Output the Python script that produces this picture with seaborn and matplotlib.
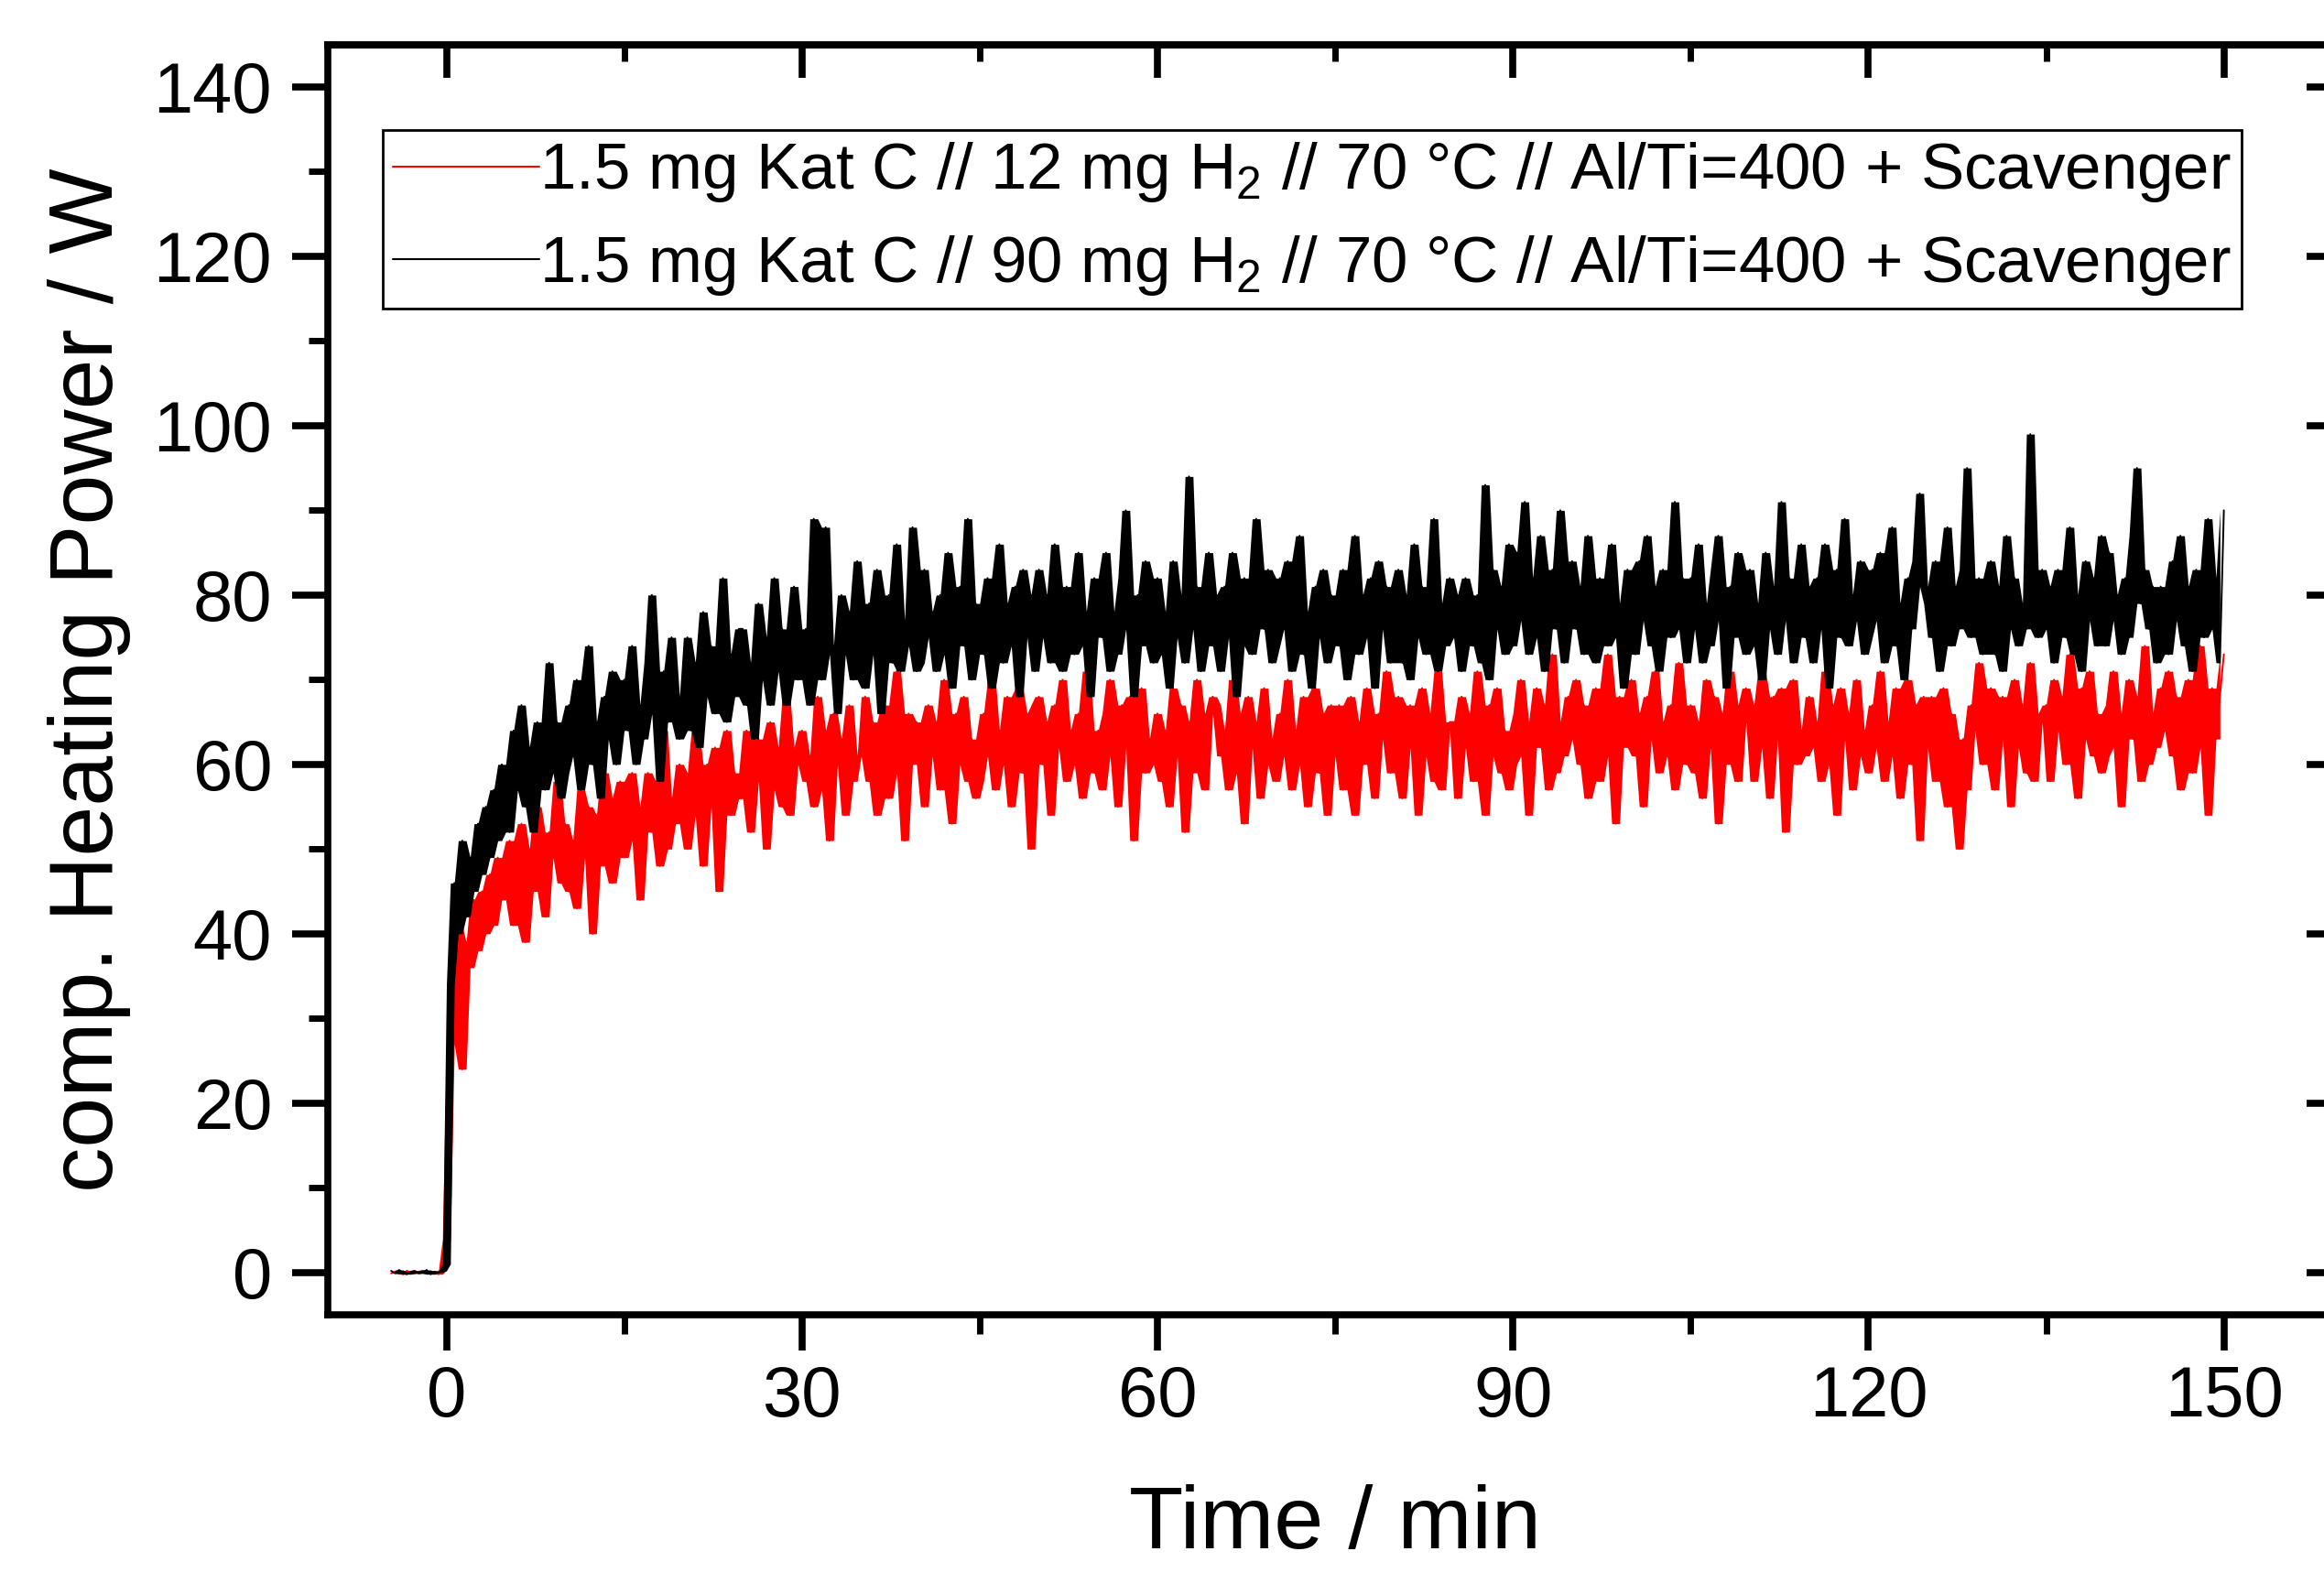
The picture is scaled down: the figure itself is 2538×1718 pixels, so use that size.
import numpy as np
import pandas as pd
import seaborn as sns
import matplotlib.pyplot as plt
from matplotlib.ticker import MultipleLocator

# Sampling of the logged curves: 3 points per minute, first point at -14/3 min
first_sample = -14
samples_per_min = 3

label_12mg = "1.5 mg Kat C // 12 mg H$_2$ // 70 °C // Al/Ti=400 + Scavenger"
label_90mg = "1.5 mg Kat C // 90 mg H$_2$ // 70 °C // Al/Ti=400 + Scavenger"

# comp. heating power in W (one row = 5 min)
power_12mg = [
    -0.1, 0.1, 0.0, -0.2, 0.2, 0.0, -0.1, 0.1, 0.2, -0.1, 0.0, 0.1, -0.2, 0.3,
    4, 27, 35, 41, 24, 39, 36, 44, 38, 45, 40, 47, 41, 49, 44,
    45, 51, 41, 49, 53, 39, 50, 45, 55, 48, 42, 52, 49, 58, 46,
    53, 45, 51, 43, 57, 49, 55, 40, 54, 48, 59, 51, 46, 56, 58,
    49, 55, 59, 51, 44, 55, 59, 52, 58, 48, 64, 50, 56, 53, 60,
    57, 50, 59, 64, 54, 48, 60, 55, 62, 45, 58, 64, 54, 59, 56,
    56, 64, 52, 61, 63, 58, 50, 65, 57, 62, 55, 68, 54, 60, 62,
    64, 58, 61, 55, 68, 57, 64, 51, 66, 60, 63, 54, 67, 58, 61,
    61, 68, 58, 65, 54, 64, 67, 56, 63, 71, 59, 51, 66, 60, 65,
    64, 55, 67, 61, 65, 57, 70, 59, 53, 66, 60, 68, 58, 63, 56,
    58, 66, 61, 70, 57, 64, 60, 68, 55, 65, 69, 59, 66, 50, 67,
    68, 60, 65, 54, 67, 62, 70, 58, 64, 60, 66, 56, 71, 61, 59,
    64, 57, 66, 70, 61, 55, 67, 62, 68, 51, 65, 69, 59, 63, 60,
    66, 58, 64, 55, 69, 61, 67, 52, 65, 59, 70, 62, 57, 66, 68,
    67, 61, 64, 57, 70, 59, 66, 53, 68, 62, 65, 56, 69, 60, 63,
    58, 66, 61, 70, 57, 64, 60, 68, 55, 65, 69, 59, 66, 54, 67,
    61, 67, 57, 64, 68, 54, 65, 60, 69, 62, 56, 66, 63, 71, 59,
    60, 68, 56, 65, 67, 62, 54, 69, 61, 66, 58, 71, 57, 64, 65,
    65, 56, 68, 62, 66, 58, 71, 60, 54, 67, 61, 69, 59, 64, 57,
    60, 66, 70, 61, 54, 65, 69, 62, 67, 57, 73, 59, 65, 61, 68,
    63, 70, 60, 67, 56, 66, 69, 58, 65, 73, 61, 53, 68, 62, 67,
    70, 61, 66, 55, 68, 63, 71, 59, 65, 61, 67, 57, 72, 62, 60,
    67, 59, 65, 56, 70, 62, 68, 53, 66, 60, 71, 63, 58, 67, 69,
    65, 58, 67, 71, 62, 56, 68, 63, 69, 52, 66, 70, 60, 64, 61,
    68, 62, 65, 58, 71, 60, 67, 54, 69, 63, 66, 57, 70, 61, 64,
    59, 67, 62, 71, 58, 65, 61, 69, 56, 66, 70, 60, 67, 51, 68,
    62, 68, 58, 65, 69, 55, 66, 61, 50, 63, 57, 67, 64, 72, 60,
    61, 69, 57, 66, 68, 63, 55, 70, 62, 67, 59, 72, 58, 65, 66,
    67, 58, 70, 64, 68, 60, 73, 62, 56, 69, 63, 71, 61, 66, 59,
    61, 67, 71, 62, 55, 66, 70, 63, 68, 58, 74, 60, 66, 62, 69,
    64, 71, 61, 68, 57, 67, 70, 59, 66, 74, 62, 54, 69, 63, 68,
    73,
]

power_90mg = [
    0.2, -0.1, 0.3, 0.0, -0.2, 0.1, 0.2, -0.1, 0.0, 0.3, -0.2, 0.1, 0.0, 0.2,
    1, 34, 46, 40, 51, 42, 49, 45, 53, 47, 55, 49, 57, 51, 60,
    59, 52, 64, 57, 67, 55, 62, 52, 65, 60, 57, 72, 59, 65, 56,
    59, 67, 61, 70, 57, 65, 74, 60, 65, 56, 68, 63, 71, 60, 68,
    70, 64, 74, 60, 67, 63, 72, 80, 66, 58, 71, 65, 75, 68, 63,
    68, 75, 64, 72, 62, 78, 68, 74, 66, 71, 82, 65, 73, 68, 76,
    76, 67, 72, 63, 79, 70, 75, 67, 82, 71, 76, 67, 73, 81, 70,
    71, 76, 67, 89, 74, 70, 88, 73, 74, 66, 80, 73, 78, 70, 84,
    78, 69, 79, 73, 83, 66, 76, 80, 72, 86, 71, 77, 74, 88, 71,
    72, 83, 75, 78, 71, 80, 73, 85, 69, 77, 81, 74, 89, 70, 79,
    77, 73, 82, 69, 78, 86, 72, 79, 74, 81, 68, 83, 75, 80, 71,
    83, 75, 80, 72, 86, 76, 71, 81, 79, 73, 85, 74, 78, 68, 82,
    81, 75, 85, 71, 78, 73, 82, 90, 76, 68, 80, 74, 84, 77, 72,
    82, 73, 78, 69, 84, 75, 80, 72, 94, 76, 81, 71, 77, 85, 74,
    80, 71, 81, 75, 85, 68, 78, 82, 74, 73, 89, 79, 76, 83, 72,
    74, 82, 76, 84, 71, 79, 87, 73, 78, 69, 81, 75, 83, 72, 80,
    78, 74, 83, 70, 79, 87, 73, 80, 75, 82, 69, 84, 76, 81, 72,
    76, 83, 72, 80, 70, 86, 75, 81, 73, 78, 89, 71, 79, 74, 82,
    75, 80, 71, 82, 78, 74, 80, 72, 93, 70, 83, 76, 81, 73, 86,
    74, 85, 77, 91, 73, 82, 75, 87, 71, 79, 83, 76, 90, 72, 81,
    84, 76, 81, 73, 87, 77, 72, 82, 80, 74, 86, 75, 79, 69, 83,
    80, 73, 84, 77, 87, 74, 81, 71, 83, 78, 75, 91, 76, 82, 72,
    82, 76, 86, 72, 79, 74, 83, 87, 77, 69, 81, 75, 85, 78, 73,
    83, 74, 79, 70, 85, 76, 81, 73, 91, 77, 82, 72, 78, 86, 75,
    81, 72, 82, 76, 86, 69, 79, 83, 75, 89, 74, 80, 77, 84, 73,
    75, 83, 77, 85, 72, 80, 88, 74, 79, 70, 82, 76, 84, 92, 81,
    79, 75, 84, 71, 80, 88, 74, 81, 76, 83, 95, 75, 77, 82, 73,
    77, 84, 73, 81, 71, 87, 76, 82, 74, 79, 76, 99, 80, 75, 83,
    76, 81, 72, 83, 79, 75, 88, 73, 80, 71, 84, 77, 82, 74, 87,
    74, 85, 77, 80, 73, 82, 75, 87, 95, 79, 83, 76, 81, 72, 81,
    80, 73, 84, 77, 87, 74, 81, 71, 83, 78, 75, 89, 76, 82, 72,
    90,
]

time_min = np.arange(first_sample, first_sample + len(power_90mg)) / samples_per_min

df = pd.DataFrame({
    "time": np.concatenate([time_min, time_min]),
    "power": power_12mg + power_90mg,
    "sample": [label_12mg] * len(power_12mg) + [label_90mg] * len(power_90mg),
})

sns.set_theme(style="ticks")
plt.rcParams["font.family"] = ["Liberation Sans", "DejaVu Sans"]
plt.rcParams["mathtext.fontset"] = "custom"
plt.rcParams["mathtext.rm"] = "Liberation Sans"
plt.rcParams["mathtext.default"] = "regular"
plt.rcParams["text.color"] = "black"
plt.rcParams["axes.labelcolor"] = "black"
plt.rcParams["xtick.color"] = "black"
plt.rcParams["ytick.color"] = "black"
plt.rcParams["xtick.labelcolor"] = "black"
plt.rcParams["ytick.labelcolor"] = "black"

fig = plt.figure(figsize=(25.38, 17.18), dpi=100)
ax = fig.add_axes([0.1411, 0.1641, 0.8668, 0.8076])

sns.lineplot(data=df, x="time", y="power", hue="sample", palette=["#ff0000", "#000000"],
             estimator=None, sort=False, linewidth=1.4, ax=ax)
ax.lines[0].set_zorder(2.0)
ax.lines[1].set_zorder(2.3)

# the logger samples far faster than shown: shade the range covered by three
# neighbouring points so the noisy trace reads as the dense band of the original
for power, colour, z in [(power_12mg, "#ff0000", 1.9), (power_90mg, "#000000", 2.2)]:
    p = np.asarray(power, dtype=float)
    lo = np.minimum.reduce([p[:-2], p[1:-1], p[2:]])
    hi = np.maximum.reduce([p[:-2], p[1:-1], p[2:]])
    ax.fill_between(time_min[1:-1], lo, hi, color=colour, lw=0, zorder=z)

ax.set_xlim(-10, 160)
ax.set_ylim(-5, 145)
ax.xaxis.set_major_locator(MultipleLocator(30))
ax.xaxis.set_minor_locator(MultipleLocator(15))
ax.yaxis.set_major_locator(MultipleLocator(20))
ax.yaxis.set_minor_locator(MultipleLocator(10))

spine_w = 5.5
for s in ax.spines.values():
    s.set_visible(True)
    s.set_linewidth(spine_w)
    s.set_color("black")

ax.tick_params(which="both", direction="out", top=False, right=False,
               color="black", labelcolor="black")
ax.tick_params(which="major", length=28, width=spine_w, labelsize=56)
ax.tick_params(which="minor", length=15, width=5)
ax.tick_params(axis="x", which="major", pad=11)
ax.tick_params(axis="y", which="major", pad=16)

# mirrored ticks pointing inward on top and right
top = ax.secondary_xaxis("top")
top.xaxis.set_major_locator(MultipleLocator(30))
top.xaxis.set_minor_locator(MultipleLocator(15))
top.tick_params(which="both", direction="in", labeltop=False, color="black")
top.tick_params(which="major", length=26, width=spine_w)
top.tick_params(which="minor", length=13, width=5)
top.spines["top"].set_linewidth(spine_w)
top.spines["top"].set_color("black")

right = ax.secondary_yaxis("right")
right.yaxis.set_major_locator(MultipleLocator(20))
right.yaxis.set_minor_locator(MultipleLocator(10))
right.tick_params(which="both", direction="in", labelright=False, color="black")
right.tick_params(which="major", length=28, width=spine_w)
right.tick_params(which="minor", length=14, width=5)
right.spines["right"].set_linewidth(spine_w)
right.spines["right"].set_color("black")

ax.set_xlabel("Time / min", fontsize=70, color="black")
ax.set_ylabel("comp. Heating Power / W", fontsize=71, color="black")
ax.xaxis.set_label_coords(0.5, -0.133)
ax.yaxis.set_label_coords(-0.0977, 0.5)

handles, labels = ax.get_legend_handles_labels()
leg = ax.legend(handles, labels, loc="upper left",
                bbox_to_anchor=(418 / 2538, 1 - 142 / 1718), bbox_transform=fig.transFigure,
                fontsize=51, frameon=True, fancybox=False, edgecolor="black", framealpha=1,
                borderaxespad=0, borderpad=0.16, handlelength=2.25, handletextpad=0,
                labelspacing=0.45)
leg.get_frame().set_linewidth(2)
for line in leg.get_lines():
    line.set_linewidth(1.5)
for text in leg.get_texts():
    text.set_color("black")

fig.savefig("out.png", dpi=100)
